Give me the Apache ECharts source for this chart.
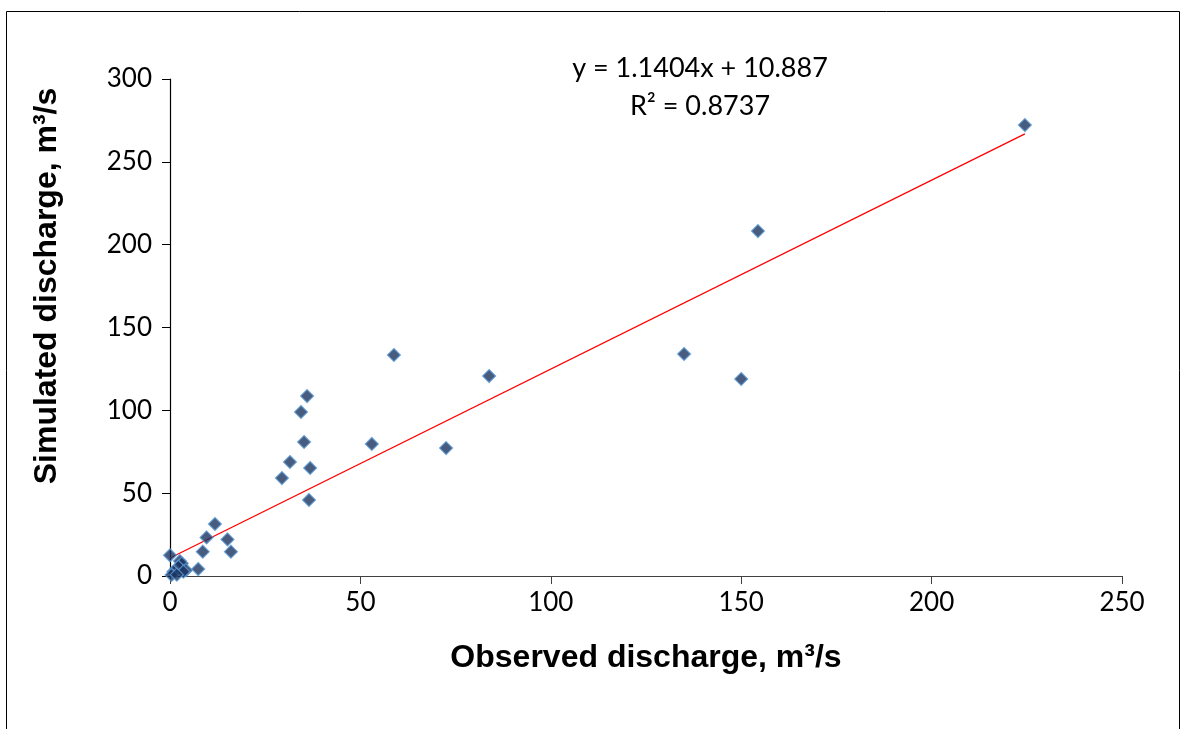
<!DOCTYPE html>
<html>
<head>
<meta charset="utf-8">
<script src="https://cdn.jsdelivr.net/npm/echarts@6/dist/echarts.min.js"></script>
<style>
html,body{margin:0;padding:0;background:#fff;}
#c{width:1184px;height:729px;}
</style>
</head>
<body>
<div id="c"></div>
<script>
const observed = [0, 2.6, 3.1, 2.2, 4.2, 0.9, 0.4, 3.5, 1.8, 7.4, 8.6, 9.6, 11.8, 15.1, 16.0,
  29.4, 31.5, 34.4, 36.0, 35.2, 36.8, 36.5, 53.0, 58.8, 72.5, 83.8, 135.0, 150.0, 154.4, 224.5];
const simulated = [12.5, 9.0, 7.5, 5.6, 3.5, 2.6, 0.6, 2.6, 0.8, 4.2, 14.7, 23.3, 31.4, 22.1, 14.7,
  59.1, 68.8, 99.0, 108.6, 80.9, 65.2, 45.9, 79.7, 133.4, 77.2, 120.7, 134.0, 118.9, 208.2, 272.2];
const slope = 1.1404;
const intercept = 10.887;
const equationText = 'y = 1.1404x + 10.887';
const r2Text = 'R² = 0.8737';
const xTitle = 'Observed discharge, m³/s';
const yTitle = 'Simulated discharge, m³/s';
const xTicks = [0, 50, 100, 150, 200, 250];
const yTicks = [0, 50, 100, 150, 200, 250, 300];

const points = observed.map((x, i) => [x, simulated[i]]);
const xMin = Math.min(...observed), xMax = Math.max(...observed);
const trend = [[xMin, slope * xMin + intercept], [xMax, slope * xMax + intercept]];

const chart = echarts.init(document.getElementById('c'));
const axisFont = {fontFamily: 'Lato', fontSize: 26, color: '#000'};
const titleStyle = {fontFamily: 'Liberation Sans', fontWeight: 'bold', fontSize: 32, fill: '#000',
  textAlign: 'center', textVerticalAlign: 'middle'};
chart.setOption({
  animation: false,
  grid: {left: 170, right: 62, top: 79, bottom: 153, containLabel: false},
  graphic: [
    {type: 'rect', shape: {x: 6.5, y: 11.5, width: 1173, height: 740},
     style: {fill: 'none', stroke: '#000', lineWidth: 1}, z: -1},
    {type: 'text', x: 700, y: 68,
     style: {text: equationText, fontFamily: 'Lato', fontSize: 27, fill: '#000',
       textAlign: 'center', textVerticalAlign: 'middle'}},
    {type: 'text', x: 700, y: 106,
     style: {text: r2Text, fontFamily: 'Lato', fontSize: 27, fill: '#000',
       textAlign: 'center', textVerticalAlign: 'middle'}},
    {type: 'text', x: 646, y: 658,
     style: Object.assign({text: xTitle}, titleStyle)},
    {type: 'text', x: 47, y: 286, rotation: Math.PI / 2,
     style: Object.assign({text: yTitle}, titleStyle)}
  ],
  xAxis: {
    type: 'value', min: 0, max: 250, interval: 50,
    axisLine: {onZero: false, lineStyle: {color: '#404040', width: 1.2}},
    axisTick: {show: true, length: 8, lineStyle: {color: '#404040'}},
    axisLabel: Object.assign({margin: 14}, axisFont),
    splitLine: {show: false}
  },
  yAxis: {
    type: 'value', min: 0, max: 300, interval: 50,
    axisLine: {show: true, onZero: false, lineStyle: {color: '#000', width: 1.2}},
    axisTick: {show: true, length: 8, lineStyle: {color: '#000'}},
    axisLabel: Object.assign({margin: 18}, axisFont),
    splitLine: {show: false}
  },
  series: [
    {type: 'line', data: trend, symbol: 'none', lineStyle: {color: '#ff0000', width: 1.3}, z: 1},
    {type: 'scatter', data: points, symbol: 'diamond', symbolSize: 13,
     itemStyle: {color: '#1a3360', borderColor: '#5b9bd5', borderWidth: 1.2}, z: 2}
  ]
});
</script>
</body>
</html>
